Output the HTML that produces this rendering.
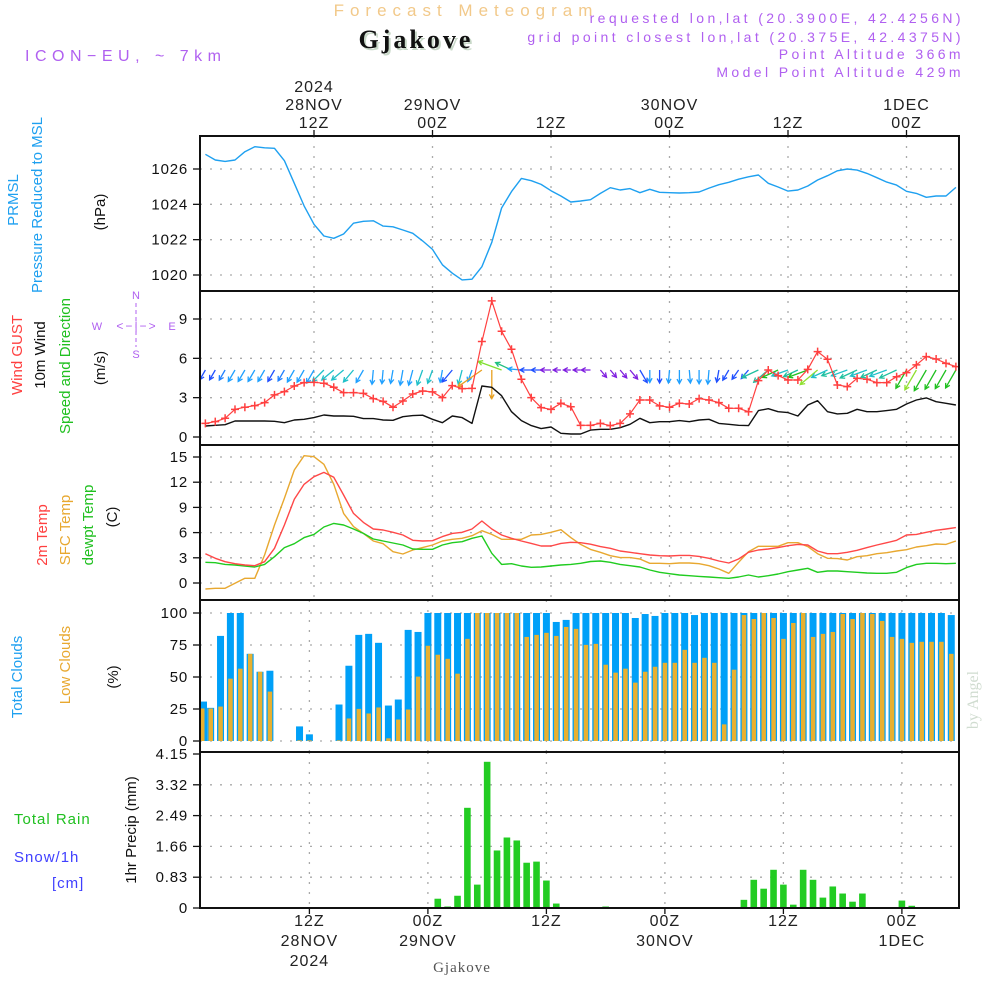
<!DOCTYPE html>
<html><head><meta charset="utf-8"><style>
html,body{margin:0;padding:0;background:#fff;}
svg{display:block;font-family:"Liberation Sans",sans-serif;}
</style></head><body>
<svg id="chart" width="1000" height="1000" viewBox="0 0 1000 1000">
<g id="titles" font-size="15" letter-spacing="1.5">
<text x="466" y="16" text-anchor="middle" fill="#f2c98a" font-size="17" letter-spacing="6">Forecast Meteogram</text>
<text x="418" y="50" text-anchor="middle" fill="#c8d8c8" font-size="26" font-weight="bold" letter-spacing="3" font-family="Liberation Serif, serif">Gjakove</text>
<text x="416" y="48" text-anchor="middle" fill="#111" font-size="26" font-weight="bold" letter-spacing="3" font-family="Liberation Serif, serif">Gjakove</text>
<text x="25" y="61" fill="#b060f0" font-size="16" letter-spacing="5.5">ICON−EU,  ~  7km</text>
<g letter-spacing="3.4">
<text x="964" y="23" text-anchor="end" fill="#b060f0" font-size="14">requested lon,lat (20.3900E, 42.4256N)</text>
<text x="964" y="42" text-anchor="end" fill="#b060f0" font-size="14">grid point closest lon,lat (20.375E, 42.4375N)</text>
<text x="964" y="59" text-anchor="end" fill="#b060f0" font-size="14">Point Altitude 366m</text>
<text x="964" y="77" text-anchor="end" fill="#b060f0" font-size="14">Model Point Altitude 429m</text>
</g>
<text x="978" y="700" text-anchor="middle" fill="#d0dcd0" font-size="16" font-family="Liberation Serif, serif" letter-spacing="0" transform="rotate(-90 978 700)">by Angel</text>
<text x="462" y="972" text-anchor="middle" fill="#555" font-size="15" font-family="Liberation Serif, serif" letter-spacing="1">Gjakove</text>
</g>
<g id="leftlabels" font-size="15">
<text x="18" y="200" text-anchor="middle" fill="#1ea0f0" transform="rotate(-90 18 200)">PRMSL</text>
<text x="42" y="205" text-anchor="middle" fill="#1ea0f0" transform="rotate(-90 42 205)">Pressure Reduced to MSL</text>
<text x="105" y="212" text-anchor="middle" fill="#111" transform="rotate(-90 105 212)">(hPa)</text>
<text x="22" y="355" text-anchor="middle" fill="#ff4040" transform="rotate(-90 22 355)">Wind GUST</text>
<text x="45" y="355" text-anchor="middle" fill="#111" transform="rotate(-90 45 355)">10m Wind</text>
<text x="70" y="366" text-anchor="middle" fill="#20c020" transform="rotate(-90 70 366)">Speed and Direction</text>
<text x="105" y="368" text-anchor="middle" fill="#111" transform="rotate(-90 105 368)">(m/s)</text>
<g fill="#b060f0" stroke="none" font-size="11">
<text x="136" y="299" text-anchor="middle">N</text>
<text x="136" y="358" text-anchor="middle">S</text>
<text x="97" y="330" text-anchor="middle">W</text>
<text x="172" y="330" text-anchor="middle">E</text>
<text x="137" y="330" text-anchor="middle" font-size="12" letter-spacing="2">&lt;−|−&gt;</text>
<line x1="136" y1="303" x2="136" y2="347" stroke="#b060f0" stroke-dasharray="4,3"/>
</g>
<text x="47" y="535" text-anchor="middle" fill="#ff4040" transform="rotate(-90 47 535)">2m Temp</text>
<text x="70" y="530" text-anchor="middle" fill="#e8a830" transform="rotate(-90 70 530)">SFC Temp</text>
<text x="93" y="525" text-anchor="middle" fill="#20c020" transform="rotate(-90 93 525)">dewpt Temp</text>
<text x="117" y="517" text-anchor="middle" fill="#111" transform="rotate(-90 117 517)">(C)</text>
<text x="22" y="677" text-anchor="middle" fill="#1ea0f0" transform="rotate(-90 22 677)">Total Clouds</text>
<text x="70" y="665" text-anchor="middle" fill="#e8a830" transform="rotate(-90 70 665)">Low Clouds</text>
<text x="118" y="677" text-anchor="middle" fill="#111" transform="rotate(-90 118 677)">(%)</text>
<text x="14" y="824" fill="#20c020" letter-spacing="1">Total  Rain</text>
<text x="14" y="862" fill="#4040ff" letter-spacing="1">Snow/1h</text>
<text x="52" y="888" fill="#4040ff" letter-spacing="1">[cm]</text>
<text x="136" y="830" text-anchor="middle" fill="#111" transform="rotate(-90 136 830)">1hr Precip (mm)</text>
</g>
<g id="grid"></g>
<g id="marks"></g>
<g id="frames"></g>
</svg>
<script>
const pressure=[1026.83,1026.51,1026.43,1026.51,1026.98,1027.26,1027.2,1027.17,1026.47,1025.19,1023.91,1022.87,1022.21,1022.08,1022.32,1022.93,1023.04,1023.07,1022.77,1022.73,1022.55,1022.36,1021.93,1021.45,1020.58,1020.1,1019.72,1019.76,1020.47,1021.85,1023.79,1024.72,1025.47,1025.34,1025.13,1024.77,1024.47,1024.13,1024.19,1024.26,1024.62,1024.94,1024.81,1024.89,1024.66,1024.85,1024.68,1024.66,1024.64,1024.66,1024.7,1024.92,1025.11,1025.25,1025.42,1025.56,1025.66,1025.19,1024.98,1024.75,1024.81,1025.04,1025.38,1025.62,1025.9,1026.0,1025.94,1025.75,1025.51,1025.26,1025.09,1024.74,1024.62,1024.4,1024.47,1024.47,1024.96];
const gust=[1.04,1.17,1.43,2.11,2.27,2.39,2.62,3.21,3.46,3.89,4.15,4.17,4.1,3.79,3.38,3.38,3.33,2.93,2.72,2.27,2.75,3.28,3.51,3.44,3.0,3.92,3.69,3.71,7.28,10.38,8.07,6.69,4.4,3.0,2.24,2.11,2.57,2.31,0.89,0.89,1.04,0.87,1.04,1.76,2.82,2.82,2.37,2.27,2.57,2.52,2.93,2.82,2.62,2.19,2.19,1.93,4.3,5.11,4.68,4.35,4.35,5.16,6.51,5.93,3.97,3.84,4.48,4.4,4.15,4.15,4.6,4.91,5.5,6.13,5.95,5.62,5.37];
const wind10=[0.84,0.89,0.94,1.22,1.22,1.22,1.22,1.2,1.09,1.3,1.35,1.48,1.68,1.6,1.6,1.58,1.4,1.4,1.3,1.27,1.55,1.63,1.66,1.35,1.09,1.6,1.48,1.04,3.89,3.79,3.15,1.93,1.25,0.87,0.64,0.76,0.28,0.23,0.23,0.53,0.59,0.59,0.71,0.97,1.43,1.09,1.17,1.17,1.25,1.17,1.3,1.35,1.04,0.97,0.89,0.87,2.01,2.16,1.93,1.86,1.6,2.44,2.77,1.93,1.76,1.81,2.11,1.93,1.93,2.01,2.11,2.52,2.82,2.98,2.69,2.57,2.44];
const windDir=[30,30,30,30,30,30,30,30,30,30,30,30,45,50,50,40,30,5,5,10,10,15,20,20,10,40,15,20,55,0,110,115,95,90,90,90,90,90,90,90,320,320,320,320,330,0,0,5,0,355,0,5,10,30,35,40,65,50,65,70,65,70,50,65,70,70,65,70,65,70,65,30,30,30,30,30,30];
const windColor=["#2050ff","#2050ff","#2080ff","#20a0ff","#20a0ff","#20a0ff","#20a0ff","#2050ff","#2080ff","#20a0ff","#20a0ff","#20a0ff","#20c0c8","#20c0c8","#20c0c8","#20c0c8","#20a0ff","#20a0ff","#20a0ff","#20a0ff","#20a0ff","#20a0ff","#20c0c8","#20c0c8","#20a0ff","#2050ff","#20c0c8","#20a0ff","#e8a020","#e8a020","#80e030","#20c080","#20a0ff","#2050ff","#2050ff","#8020e0","#8020e0","#8020e0","#8020e0","#8020e0","#8020e0","#8020e0","#8020e0","#8020e0","#2050ff","#20a0ff","#2050ff","#20a0ff","#20a0ff","#20a0ff","#20a0ff","#20a0ff","#2050ff","#2050ff","#2050ff","#2050ff","#20c0a0","#20c0a0","#20c020","#20c0c8","#20c0a0","#20c020","#90e030","#20c0c8","#20c0a0","#20c0c8","#20c0a0","#20c0c8","#20c0a0","#20c0c8","#20c0a0","#20c020","#90e030","#20c020","#20c020","#20c020","#20c020"];
const temp2m=[3.49,2.94,2.54,2.3,2.14,2.06,2.54,4.13,6.9,9.96,11.75,12.65,13.17,12.58,10.48,8.29,7.22,6.43,6.31,6.03,5.71,5.08,5.0,5.04,5.52,5.91,6.03,6.43,7.38,6.43,5.71,5.32,5.0,4.72,4.4,4.4,4.72,4.84,4.8,4.62,4.33,4.13,3.81,3.65,3.49,3.33,3.25,3.21,3.29,3.29,3.17,2.94,2.62,2.38,2.86,3.65,3.93,4.05,4.21,4.44,4.6,4.52,3.81,3.49,3.49,3.65,3.89,4.21,4.52,4.8,5.08,5.71,5.79,6.03,6.27,6.43,6.59];
const tempSfc=[-0.71,-0.63,-0.63,-0.04,0.56,0.56,3.33,6.9,10.08,13.45,15.16,15.04,14.13,11.75,8.29,6.71,5.91,5.0,4.68,3.73,3.45,3.93,4.21,4.52,5.0,5.2,5.32,5.63,6.23,5.79,5.2,5.2,5.2,5.71,5.79,6.03,6.35,5.4,4.6,4.0,3.65,3.25,3.02,3.02,2.86,2.34,2.34,2.3,2.38,2.38,2.3,2.06,1.67,1.15,2.46,3.73,4.37,4.37,4.37,4.8,4.8,4.33,3.49,2.94,2.9,2.74,3.13,3.25,3.49,3.61,3.81,3.97,4.29,4.44,4.64,4.6,5.0];
const dewpt=[2.46,2.42,2.22,2.14,2.02,1.9,2.22,3.13,4.21,4.68,5.4,5.79,6.67,7.1,6.9,6.43,5.91,5.24,5.0,4.76,4.52,4.05,4.01,4.01,4.52,4.8,4.92,5.32,5.6,3.53,2.22,2.3,2.02,1.87,1.9,2.02,2.14,2.22,2.34,2.56,2.62,2.46,2.22,2.06,1.9,1.55,1.27,1.11,0.95,0.87,0.79,0.71,0.63,0.56,0.71,0.95,0.71,0.87,1.07,1.35,1.55,1.75,1.27,1.43,1.43,1.35,1.27,1.19,1.15,1.15,1.27,1.83,2.22,2.34,2.34,2.3,2.34];
const totalClouds=[30.8,25.9,82.1,100,100,68.1,54.1,54.9,0,0,11.4,5.2,0,0,28.5,58.8,82.9,83.7,76.7,27.7,32.4,86.8,85.2,100,100,100,100,100,100,100,100,100,100,100,100,100,93,94.6,100,100,100,100,100,100,96.1,99.2,97.7,100,100,100,98.4,100,100,100,100,100,100,100,100,100,100,100,100,100,100,100,100,100,100,100,100,100,100,100,100,100,98.4];
const lowClouds=[25.4,25.4,26.9,48.7,56.5,68.1,54.1,38.6,0,0,0.5,0.5,0,0,0.5,17.6,25.1,21.5,26.2,2.1,16.8,24.6,50.3,74.4,67.4,64.2,52.6,79.8,100,100,100,100,100,81.3,82.9,84.5,82.1,89.1,87.6,75.1,75.9,59.6,53.4,56.5,45.6,54.1,58,61.1,61.1,71.2,61.1,65,61.1,13,55.7,98.4,95.3,100,96.1,79.8,92.2,100,81.3,83.7,85.2,99.2,95.3,100,99.2,93.8,81.3,79.8,76.7,77.5,77.5,77.5,68.1];
const precipHours=[25,26,27,28,29,30,31,32,33,34,35,36,37,42,56,57,58,59,60,61,62,63,64,65,66,67,68,72,73];
const precipValues=[0.25,0.04,0.33,2.7,0.63,3.94,1.55,1.9,1.82,1.22,1.25,0.74,0.12,0.04,0.22,0.76,0.52,1.03,0.63,0.09,1.03,0.76,0.28,0.58,0.39,0.17,0.39,0.2,0.06];
const pressTicks=[1020,1022,1024,1026];
const windTicks=[0,3,6,9];
const tempTicks=[0,3,6,9,12,15];
const cloudTicks=[0,25,50,75,100];
const precipTicks=[0,0.83,1.66,2.49,3.32,4.15];
const timeTicks=[12,24,36,48,60,72];
const topLabels=[["2024","28NOV","12Z"],["","29NOV","00Z"],["","","12Z"],["","30NOV","00Z"],["","","12Z"],["","1DEC","00Z"]];
const bottomLabels=[["12Z","28NOV","2024"],["00Z","29NOV",""],["12Z","",""],["00Z","30NOV",""],["12Z","",""],["00Z","1DEC",""]];

const NS="http://www.w3.org/2000/svg";
const XL=200,XR=959;
function mk(tag,attrs,parent){const e=document.createElementNS(NS,tag);for(const k in attrs)e.setAttribute(k,attrs[k]);parent.appendChild(e);return e;}
const xLine=t=>195.5+9.875*t;
const xBar=t=>190.9+9.875*t;
function lin(v0,y0,v1,y1){return v=>y0+(v-v0)*(y1-y0)/(v1-v0);}
const yP=lin(1026,169,1020,275);
const yW=lin(0,437,9,319);
const yT=lin(0,583,15,457);
const yC=lin(0,741,100,613);
const yR=lin(0,908,4.15,754);
const panels=[
 {top:136,bot:291,y:yP,ticks:pressTicks,fmt:v=>v,xf:xLine,name:'pressure'},
 {top:291,bot:445,y:yW,ticks:windTicks,fmt:v=>v,xf:xLine,name:'wind'},
 {top:445,bot:600,y:yT,ticks:tempTicks,fmt:v=>v,xf:xLine,name:'temperature'},
 {top:600,bot:752,y:yC,ticks:cloudTicks,fmt:v=>v,xf:xBar,name:'clouds'},
 {top:752,bot:908,y:yR,ticks:precipTicks,fmt:v=>v===0?'0':v.toFixed(2),xf:xBar,name:'precip'}];
const grid=document.getElementById('grid'),marks=document.getElementById('marks'),frames=document.getElementById('frames');
panels.forEach(p=>{
 p.ticks.forEach(v=>{
  const y=p.y(v);
  if(y>p.top+3&&y<p.bot-3){const g=mk('line',{x1:XL,x2:XR,y1:y,y2:y,stroke:'#aaa','stroke-width':1.3,'stroke-dasharray':'2,8'},grid);
  
  }
  const tk=mk('line',{x1:XL-7,x2:XL,y1:y,y2:y,stroke:'#111','stroke-width':1.3},frames);
  
  
  const lb=mk('text',{x:XL-12,y:y+5,'text-anchor':'end','font-size':15,fill:'#111','letter-spacing':'0.8'},frames);
  lb.textContent=p.fmt(v);
  
  
 });
 timeTicks.forEach(t=>{const x=p.xf(t);const g=mk('line',{x1:x,x2:x,y1:p.top,y2:p.bot,stroke:'#aaa','stroke-width':1.3,'stroke-dasharray':'2,8'},grid);
  
  });
 const f=mk('rect',{x:XL,y:p.top,width:XR-XL,height:p.bot-p.top,fill:'none',stroke:'#111','stroke-width':2},frames);
 
 
});
timeTicks.forEach((t,i)=>{
 const x=xLine(t);
 const tk=mk('line',{x1:x,x2:x,y1:130,y2:136,stroke:'#111','stroke-width':1.3},frames);
 
 
 topLabels[i].forEach((s,j)=>{if(!s)return;const e=mk('text',{x:x,y:92+j*18,'text-anchor':'middle','font-size':16,fill:'#222','letter-spacing':'1'},frames);e.textContent=s;
  
  });
 const xb=xBar(t);
 const tb=mk('line',{x1:xb,x2:xb,y1:908,y2:914,stroke:'#111','stroke-width':1.3},frames);
 
 
 bottomLabels[i].forEach((s,j)=>{if(!s)return;const e=mk('text',{x:xb,y:926+j*20,'text-anchor':'middle','font-size':16,fill:'#222','letter-spacing':'1'},frames);e.textContent=s;
  
  });
});
function poly(arr,yf,color,name,w){
 const pts=arr.map((v,i)=>xLine(i+1).toFixed(1)+','+yf(v).toFixed(1)).join(' ');
 const e=mk('polyline',{points:pts,fill:'none',stroke:color,'stroke-width':w||1.4,'stroke-linejoin':'round'},marks);
 
 
}
poly(pressure,yP,'#1ea0f0','pressure-line');
totalClouds.forEach((v,i)=>{const x=xBar(i+1);const y=yC(v);
 const b=mk('rect',{x:Math.max(XL,x-3.5),y:y,width:Math.min(7,XR-Math.max(XL,x-3.5)),height:741-y,fill:'#00a0f8'},marks);
 
 });
lowClouds.forEach((v,i)=>{const x=xBar(i+1);const y=yC(v);
 const b=mk('rect',{x:Math.max(XL,x-2.2),y:y,width:Math.min(4.5,XR-Math.max(XL,x-2.2)),height:741-y,fill:'#e8b030'},marks);
 
 });
precipHours.forEach((t,i)=>{const x=xBar(t);const y=yR(precipValues[i]);
 const b=mk('rect',{x:x-3.3,y:y,width:6.6,height:908-y,fill:'#22cc22'},marks);
 
 });
poly(tempSfc,yT,'#e8a830','sfc-temp-line');
poly(dewpt,yT,'#20cc20','dewpt-line');
poly(temp2m,yT,'#ff4848','temp-2m-line');
windDir.forEach((d,i)=>{
 const x0=xLine(i+1),y0=370;const L=6+wind10[i]*6;
 const a=d*Math.PI/180;
 const dx=-Math.sin(a)*L,dy=Math.cos(a)*L;
 const x1=x0+dx,y1=y0+dy;
 const ang=Math.atan2(dy,dx);const h=5;
 const p=`M${x0.toFixed(1)},${y0} L${x1.toFixed(1)},${y1.toFixed(1)} M${(x1-h*Math.cos(ang-0.5)).toFixed(1)},${(y1-h*Math.sin(ang-0.5)).toFixed(1)} L${x1.toFixed(1)},${y1.toFixed(1)} L${(x1-h*Math.cos(ang+0.5)).toFixed(1)},${(y1-h*Math.sin(ang+0.5)).toFixed(1)}`;
 const e=mk('path',{d:p,fill:'none',stroke:windColor[i],'stroke-width':1.3},marks);
 
 
});
poly(wind10,yW,'#111','wind-10m-line');
poly(gust,yW,'#ff4040','wind-gust-line',1.2);
gust.forEach((v,i)=>{const x=xLine(i+1),y=yW(v);
 const e=mk('path',{d:`M${x-4},${y} h8 M${x},${y-4} v8`,stroke:'#ff4040','stroke-width':1.5},marks);
 
 });
</script>
</body></html>
